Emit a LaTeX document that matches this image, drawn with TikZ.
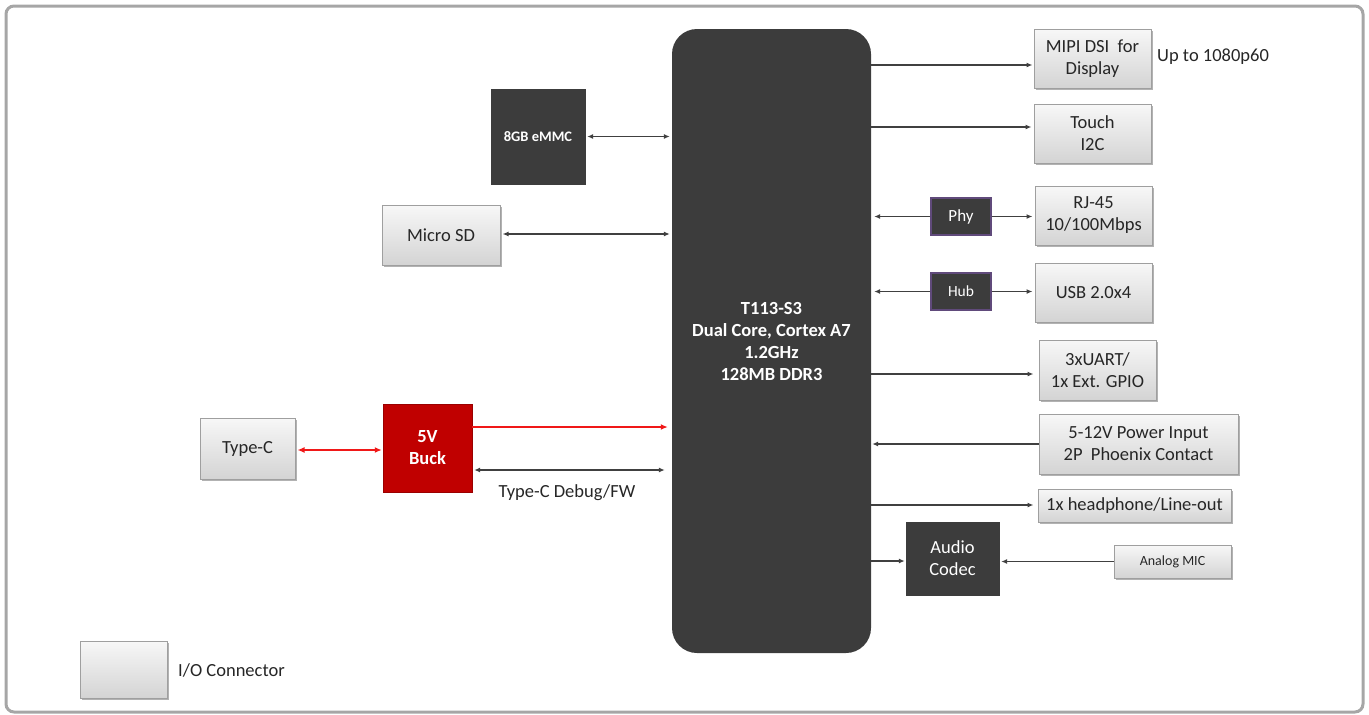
\documentclass[tikz,border=0pt]{standalone}
\usepackage{fontspec}
\setmainfont{Carlito}
\usetikzlibrary{arrows.meta,shadows,calc}
\definecolor{darkbox}{HTML}{3C3C3C}
\definecolor{linegray}{HTML}{404040}
\definecolor{txt}{HTML}{262626}
\definecolor{buckred}{HTML}{C00000}
\definecolor{arrred}{HTML}{F01818}
\definecolor{phyborder}{HTML}{604A7B}
\definecolor{frame}{HTML}{A6A6A6}
\tikzset{
  iobox/.style={draw=gray!75, line width=1pt, top color=gray!6, bottom color=gray!34,
    drop shadow={shadow xshift=1.5pt, shadow yshift=-1.5pt, opacity=0.3, fill=black},
    text=txt, align=center, inner sep=0pt, font=\fontsize{18.5}{22}\selectfont},
  darkblk/.style={fill=darkbox, draw=darkbox, text=white, align=center, inner sep=0pt,
    font=\fontsize{18.5}{22}\selectfont},
  smallblk/.style={fill=darkbox, draw=phyborder, line width=1.2pt, text=white, align=center, inner sep=0pt},
  conn/.style={draw=linegray, line width=1.8pt, -{Latex[length=6pt,width=5pt]}},
  bconn/.style={draw=linegray, line width=1.8pt, {Latex[length=6pt,width=5pt]}-{Latex[length=6pt,width=5pt]}},
  rconn/.style={draw=arrred, line width=2.2pt, -{Latex[length=7pt,width=6pt]}},
  rbconn/.style={draw=arrred, line width=2.2pt, {Latex[length=7pt,width=6pt]}-{Latex[length=7pt,width=6pt]}},
  lbl/.style={text=txt, font=\fontsize{18.5}{22}\selectfont, inner sep=0pt}
}
\begin{document}
\begin{tikzpicture}[x=1pt,y=-1pt]
\useasboundingbox (0,0) rectangle (1369,715);
\draw[frame, line width=3pt, rounded corners=8pt] (6,6) rectangle (1363,712);

% CPU
\node[fill=darkbox, rounded corners=25pt, minimum width=199pt, minimum height=624pt, inner sep=0pt,
  text=white, align=center, font=\bfseries\fontsize{18.5}{22}\selectfont] (cpu) at (771.5,341)
  {T113-S3\\Dual Core, Cortex A7\\1.2GHz\\128MB DDR3};

% left side
\node[darkblk, minimum width=94pt, minimum height=95pt, font=\bfseries\fontsize{14.5}{17}\selectfont] (emmc) at (538,136.5) {8GB eMMC};
\node[iobox, minimum width=118pt, minimum height=60pt] (sd) at (441,235) {Micro SD};
\node[iobox, minimum width=95pt, minimum height=61pt] (typec) at (247.5,448.5) {Type-C};
\node[fill=buckred, draw=buckred!80!black, minimum width=89pt, minimum height=88pt, inner sep=0pt,
  text=white, align=center, font=\bfseries\fontsize{18.5}{22}\selectfont] (buck) at (427.5,448) {5V\\Buck};

\draw[bconn] ([xshift=2pt]emmc.east) -- ([xshift=-2pt]emmc.east -| cpu.west);
\draw[bconn] ([xshift=2pt]sd.east |- 0,234) -- ([xshift=-2pt]cpu.west |- 0,234);
\draw[rbconn] ([xshift=2pt]typec.east |- 0,450) -- ([xshift=-1pt]buck.west |- 0,450);
\draw[rconn] (buck.east |- 0,427) -- ([xshift=-4pt]cpu.west |- 0,427);
\draw[bconn] ([xshift=2pt]buck.east |- 0,470) -- ([xshift=-7pt]cpu.west |- 0,470);
\node[lbl] (dbg) at (567,493) {Type-C Debug/FW};

% right side
\node[iobox, minimum width=117pt, minimum height=59pt] (mipi) at (1092.5,58.5) {MIPI DSI\ \ for\\Display};
\node[lbl, anchor=west] (up) at (1157,57) {Up to 1080p60};
\node[iobox, minimum width=117pt, minimum height=59pt] (touch) at (1092.5,133.5) {Touch\\I2C};
\node[smallblk, minimum width=60pt, minimum height=37pt, font=\fontsize{17}{20}\selectfont] (phy) at (961,216.5) {Phy};
\node[iobox, minimum width=117pt, minimum height=59pt] (rj) at (1093.5,215.5) {RJ-45\\10/100Mbps};
\node[smallblk, minimum width=60pt, minimum height=37pt, font=\fontsize{15.5}{18}\selectfont] (hub) at (961,291.5) {Hub};
\node[iobox, minimum width=117pt, minimum height=59pt] (usb) at (1093.5,292.5) {USB 2.0x4};
\node[iobox, minimum width=117pt, minimum height=60pt] (uart) at (1097.5,370) {3xUART/\\1x Ext. GPIO};
\node[iobox, minimum width=199pt, minimum height=60pt] (pwr) at (1138.5,444) {5-12V Power Input\\2P\ \ Phoenix Contact};
\node[iobox, minimum width=193pt, minimum height=33pt] (hp) at (1134.5,505.5) {1x headphone/Line-out};
\node[darkblk, minimum width=93pt, minimum height=73pt] (codec) at (952.5,558.5) {Audio\\Codec};
\node[iobox, minimum width=117pt, minimum height=33pt, font=\fontsize{14}{17}\selectfont] (mic) at (1172.5,561.5) {Analog MIC};

\draw[conn] (cpu.east |- 0,65) -- ([xshift=-1pt]mipi.west |- 0,65);
\draw[conn] (cpu.east |- 0,127) -- ([xshift=-2pt]touch.west |- 0,127);
\draw[conn] (phy.west) -- ([xshift=3pt]cpu.east |- phy.west);
\draw[conn] (phy.east) -- ([xshift=-2pt]rj.west |- phy.east);
\draw[conn] (hub.west) -- ([xshift=3pt]cpu.east |- hub.west);
\draw[conn] (hub.east) -- ([xshift=-2pt]usb.west |- hub.east);
\draw[conn] (cpu.east |- 0,374) -- ([xshift=-5pt]uart.west |- 0,374);
\draw[conn] (pwr.west) -- ([xshift=1pt]cpu.east |- pwr.west);
\draw[conn] (cpu.east |- 0,505) -- ([xshift=-4pt]hp.west |- 0,505);
\draw[conn] (cpu.east |- 0,561) -- ([xshift=-1pt]codec.west |- 0,561);
\draw[conn] (mic.west) -- ([xshift=2pt]codec.east |- mic.west);

% legend
\node[iobox, minimum width=87pt, minimum height=57pt] (legend) at (123.5,669.5) {};
\node[lbl, anchor=west] (legendtxt) at (178,670) {I/O Connector};
\end{tikzpicture}
\end{document}
